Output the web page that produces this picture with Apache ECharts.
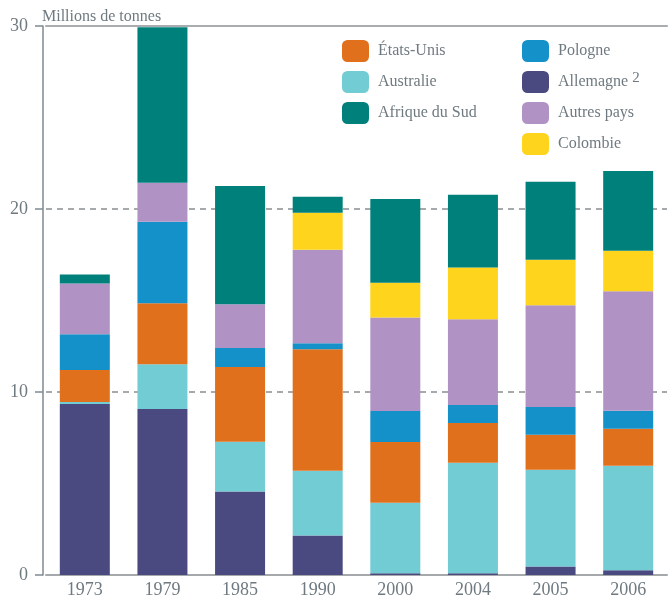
<!DOCTYPE html>
<html>
<head>
<meta charset="utf-8">
<script src="https://cdn.jsdelivr.net/npm/echarts@6/dist/echarts.min.js"></script>
<style>
  html, body { margin: 0; padding: 0; background: #fff; }
  #chart { width: 671px; height: 599px; }
</style>
</head>
<body>
<div id="chart"></div>
<script>
// Production de charbon exportée, millions de tonnes
const years = ['1973', '1979', '1985', '1990', '2000', '2004', '2005', '2006'];
const allemagne = [9.35, 9.07, 4.56, 2.16, 0.09, 0.1, 0.47, 0.26];
const australie = [0.1, 2.45, 2.72, 3.54, 3.86, 6.03, 5.28, 5.71];
const etatsUnis = [1.75, 3.33, 4.08, 6.64, 3.32, 2.18, 1.91, 2.02];
const pologne = [1.96, 4.45, 1.04, 0.33, 1.69, 0.98, 1.52, 0.98];
const autresPays = [2.77, 2.13, 2.39, 5.11, 5.11, 4.68, 5.56, 6.53];
const colombie = [0, 0, 0, 2.02, 1.9, 2.83, 2.49, 2.22];
const afriqueDuSud = [0.49, 8.5, 6.47, 0.87, 4.58, 3.98, 4.26, 4.36];
const yTicks = [0, 10, 20, 30];

const font = "'Liberation Serif', serif";
const grey = '#6f7a80';

const myChart = echarts.init(document.getElementById('chart'));

function bar(name, data, color) {
  return {
    name: name,
    type: 'bar',
    stack: 'total',
    barWidth: 50,
    data: data,
    itemStyle: { color: color }
  };
}

const legendText = {
  fontFamily: font,
  fontSize: 16,
  color: grey,
  padding: [0, 0, 0, 4],
  rich: {
    sup: { fontFamily: font, fontSize: 15, color: grey, padding: [0, 0, 7, 0] }
  }
};

const option = {
  animation: false,
  textStyle: { fontFamily: font },
  title: {
    text: 'Millions de tonnes',
    left: 37,
    top: 4,
    textStyle: { fontFamily: font, fontSize: 16, fontWeight: 'normal', color: grey }
  },
  legend: [
    {
      data: ['États-Unis', 'Australie', 'Afrique du Sud'],
      orient: 'vertical',
      left: 337,
      top: 35,
      itemWidth: 27,
      itemHeight: 22,
      itemGap: 9,
      selectedMode: false,
      textStyle: legendText
    },
    {
      data: ['Pologne', 'Allemagne', 'Autres pays', 'Colombie'],
      orient: 'vertical',
      left: 517,
      top: 35,
      itemWidth: 27,
      itemHeight: 22,
      itemGap: 9,
      selectedMode: false,
      formatter: function (name) {
        return name === 'Allemagne' ? 'Allemagne {sup|2}' : name;
      },
      textStyle: legendText
    }
  ],
  grid: { left: 46, right: 4, top: 26, bottom: 23 },
  xAxis: [
    {
      type: 'category',
      data: years,
      axisTick: { show: false },
      axisLine: { lineStyle: { color: '#a5a9ac', width: 2 } },
      axisLabel: { fontFamily: font, fontSize: 18, color: grey, margin: 6 }
    },
    {
      type: 'category',
      position: 'top',
      data: years,
      axisTick: { show: false },
      axisLabel: { show: false },
      axisLine: { lineStyle: { color: '#a9adb0', width: 2 } }
    }
  ],
  yAxis: {
    type: 'value',
    min: yTicks[0],
    max: yTicks[yTicks.length - 1],
    interval: 10,
    offset: 3,
    axisLine: { show: true, lineStyle: { color: '#7f8a90', width: 1.5 } },
    axisTick: { show: true, length: 8, lineStyle: { color: '#7f8a90', width: 1.5 } },
    axisLabel: { fontFamily: font, fontSize: 18, color: grey, margin: 15 },
    splitLine: { lineStyle: { color: '#8a8f92', type: [6, 5], width: 1.5 } }
  },
  series: [
    bar('Allemagne', allemagne, '#4a4a80'),
    bar('Australie', australie, '#72ccd3'),
    bar('États-Unis', etatsUnis, '#e0701c'),
    bar('Pologne', pologne, '#1491c9'),
    bar('Autres pays', autresPays, '#b093c4'),
    bar('Colombie', colombie, '#fed41c'),
    bar('Afrique du Sud', afriqueDuSud, '#00807a')
  ]
};

myChart.setOption(option);
</script>
</body>
</html>
